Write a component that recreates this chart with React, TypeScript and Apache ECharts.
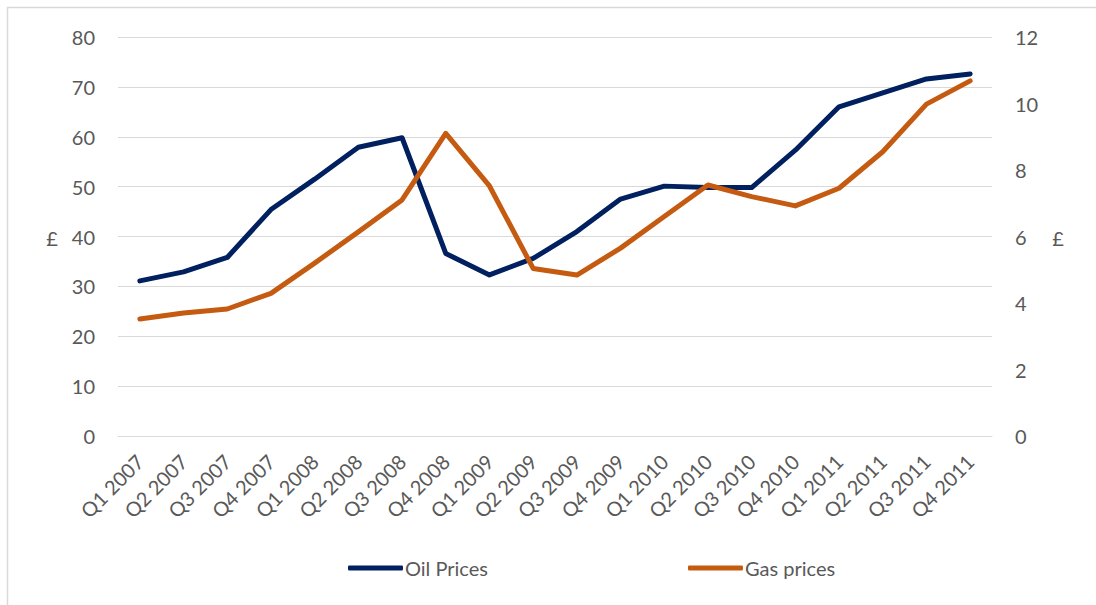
import React, { useEffect, useRef } from "react";
import * as echarts from "echarts";

const categories = [
  "Q1 2007", "Q2 2007", "Q3 2007", "Q4 2007",
  "Q1 2008", "Q2 2008", "Q3 2008", "Q4 2008",
  "Q1 2009", "Q2 2009", "Q3 2009", "Q4 2009",
  "Q1 2010", "Q2 2010", "Q3 2010", "Q4 2010",
  "Q1 2011", "Q2 2011", "Q3 2011", "Q4 2011",
];

const oilPrices = [
  31.1, 32.9, 35.8, 45.4,
  51.5, 57.9, 59.8, 36.6,
  32.3, 35.6, 41.0, 47.5,
  50.1, 49.8, 49.8, 57.3,
  66.0, 68.8, 71.6, 72.6,
];

const gasPrices = [
  3.52, 3.7, 3.82, 4.29,
  5.2, 6.14, 7.1, 9.1,
  7.52, 5.04, 4.84, 5.65,
  6.6, 7.55, 7.2, 6.92,
  7.45, 8.55, 9.98, 10.68,
];

const FONT = "Lato, 'Open Sans', sans-serif";
const TEXT = "#595959";

export default function App() {
  const ref = useRef<HTMLDivElement>(null);

  useEffect(() => {
    document.body.style.margin = "0";
    if (!ref.current) return;
    const chart = echarts.init(ref.current, undefined, { renderer: "svg" });
    chart.setOption({
      animation: false,
      backgroundColor: "#ffffff",
      textStyle: { fontFamily: FONT, color: TEXT },
      grid: { left: 118, right: 104, top: 37, bottom: 169, containLabel: false },
      xAxis: {
        type: "category",
        data: categories,
        boundaryGap: true,
        axisLine: { show: true, lineStyle: { color: "#d9d9d9", width: 1 } },
        axisTick: { show: false },
        axisLabel: { rotate: 45, fontSize: 20, color: TEXT, fontFamily: FONT, margin: 22, interval: 0 },
      },
      yAxis: [
        {
          type: "value",
          min: 0,
          max: 80,
          interval: 10,
          axisLine: { show: false },
          axisTick: { show: false },
          splitLine: { show: true, lineStyle: { color: "#d9d9d9", width: 1 } },
          axisLabel: { fontSize: 20, color: TEXT, fontFamily: FONT, margin: 23 },
        },
        {
          type: "value",
          min: 0,
          max: 12,
          interval: 2,
          position: "right",
          axisLine: { show: false },
          axisTick: { show: false },
          splitLine: { show: false },
          axisLabel: { fontSize: 20, color: TEXT, fontFamily: FONT, margin: 23 },
        },
      ],
      legend: {
        left: 343,
        top: 553,
        itemGap: 200,
        itemWidth: 55,
        itemHeight: 5,
        icon: "roundRect",
        textStyle: { fontSize: 20, color: TEXT, fontFamily: FONT, padding: [0, 0, 0, -3] },
        data: ["Oil Prices", "Gas prices"],
      },
      graphic: [
        {
          type: "rect",
          shape: { x: 7.5, y: 7.5, width: 1200, height: 800 },
          style: { fill: "none", stroke: "#d9d9d9", lineWidth: 1.5 },
          silent: true,
        },
        {
          type: "text",
          x: 52,
          y: 238,
          style: { text: "£", fontSize: 20, fill: TEXT, fontFamily: FONT, textAlign: "center", textVerticalAlign: "middle" },
        },
        {
          type: "text",
          x: 1058,
          y: 238,
          style: { text: "£", fontSize: 20, fill: TEXT, fontFamily: FONT, textAlign: "center", textVerticalAlign: "middle" },
        },
      ],
      series: [
        {
          name: "Oil Prices",
          type: "line",
          yAxisIndex: 0,
          data: oilPrices,
          symbol: "none",
          color: "#002060",
          lineStyle: { color: "#002060", width: 5, cap: "round", join: "round" },
        },
        {
          name: "Gas prices",
          type: "line",
          yAxisIndex: 1,
          data: gasPrices,
          symbol: "none",
          color: "#C55A11",
          lineStyle: { color: "#C55A11", width: 5, cap: "round", join: "round" },
        },
      ],
    });
    return () => chart.dispose();
  }, []);

  return <div ref={ref} style={{ width: 1096, height: 605 }} />;
}
